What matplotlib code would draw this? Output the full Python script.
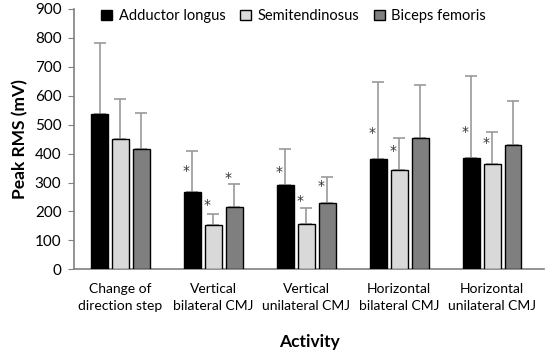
import numpy as np
import matplotlib.pyplot as plt

plt.rcParams['font.family'] = ['Lato', 'DejaVu Sans']

activities = ["Change of\ndirection step", "Vertical\nbilateral CMJ", "Vertical\nunilateral CMJ",
              "Horizontal\nbilateral CMJ", "Horizontal\nunilateral CMJ"]
muscles = ["Adductor longus", "Semitendinosus", "Biceps femoris"]

# means and upper error (mean + SD)
adductor = [537, 268, 292, 381, 385]
adductor_top = [781, 409, 417, 647, 668]
semiten = [449, 155, 156, 345, 365]
semiten_top = [587, 192, 211, 453, 474]
biceps = [417, 217, 231, 453, 428]
biceps_top = [541, 295, 318, 636, 582]

# significance stars (height in mV, None = no star)
adductor_star = [None, 340, 337, 472, 474]
semiten_star = [None, 222, 237, 410, 437]
biceps_star = [None, 317, 288, None, None]

colors = ["#000000", "#d9d9d9", "#7f7f7f"]

fig = plt.figure(figsize=(5.5, 3.54), dpi=100)
ax = fig.add_axes([0.1345, 0.239, 0.855, 0.736])

x = np.arange(len(activities))
width = 0.18
step = 0.225

series = [(adductor, adductor_top, adductor_star),
          (semiten, semiten_top, semiten_star),
          (biceps, biceps_top, biceps_star)]

for i, (vals, tops, stars) in enumerate(series):
    xs = x + (i - 1) * step
    err = np.array(tops) - np.array(vals)
    ax.bar(xs, vals, width, color=colors[i], edgecolor='black', linewidth=1.0,
           label=muscles[i], zorder=3)
    ax.errorbar(xs, vals, yerr=[np.zeros_like(err), err], fmt='none',
                ecolor='#999999', elinewidth=1.2, capsize=4, capthick=1.2, zorder=2)
    for xi, s in zip(xs, stars):
        if s is not None:
            ax.text(xi - 0.065, s, '*', ha='center', va='center', fontsize=10,
                    family='DejaVu Sans', color='#333333')

ax.set_xlim(-0.5, 4.56)
ax.set_ylim(0, 900)
ax.set_yticks(range(0, 901, 100))
ax.set_xticks(x)
ax.set_xticklabels(activities, fontsize=10, linespacing=1.45)
ax.tick_params(axis='x', length=0, pad=10)
ax.tick_params(axis='y', labelsize=11, direction='out', length=4, color='#808080', pad=5)
for sp in ['top', 'right']:
    ax.spines[sp].set_visible(False)
for sp in ['left', 'bottom']:
    ax.spines[sp].set_color('#808080')
    ax.spines[sp].set_linewidth(1.2)

ax.set_ylabel("Peak RMS (mV)", fontsize=12.5, fontweight='bold', labelpad=5)
ax.set_xlabel("Activity", fontsize=12.5, fontweight='bold', labelpad=16)

ax.legend(loc='upper left', bbox_to_anchor=(0.03, 1.05), ncol=3, frameon=False,
          fontsize=10.5, handlelength=0.75, handleheight=0.75, columnspacing=1.0,
          handletextpad=0.45)

fig.savefig("out.png", dpi=100)
